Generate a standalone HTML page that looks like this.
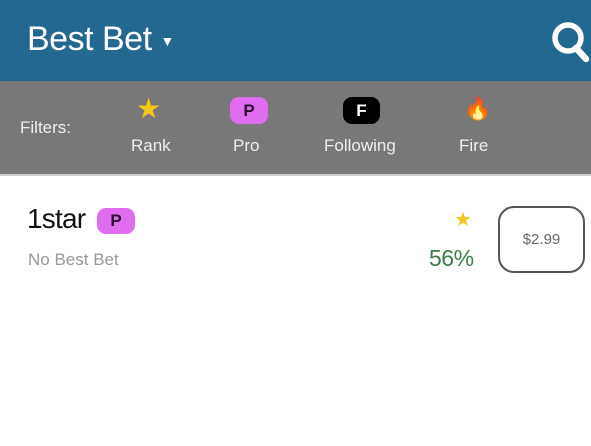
<!DOCTYPE html>
<html><head><meta charset="utf-8"><style>
body{margin:0;width:591px;height:446px;overflow:hidden;background:#fff;font-family:"Liberation Sans",sans-serif;position:relative}
.a{position:absolute}
.pill{position:absolute;border-radius:9px;text-align:center;font-weight:bold;font-size:17px}
</style></head><body>
<div class="a" style="left:0;top:0;width:591px;height:81px;background:#236891"></div>
<div class="a" style="left:27px;top:20px;color:#fff;font-size:34px;letter-spacing:-0.5px">Best Bet <span style="font-size:14px;vertical-align:middle">▼</span></div>
<svg class="a" style="left:550px;top:20px" width="41" height="44"><circle cx="18" cy="18" r="13" fill="none" stroke="#fff" stroke-width="5.5"/><line x1="26" y1="28" x2="36" y2="39" stroke="#fff" stroke-width="6.5" stroke-linecap="round"/></svg>
<div class="a" style="left:0;top:81px;width:591px;height:93px;background:#787878;border-bottom:2px solid #ccc"></div>
<div class="a" style="left:20px;top:118px;color:#eee;font-size:17px">Filters:</div>
<div class="a" style="left:136px;top:92px;font-size:28px;color:#f5c518">★</div>
<div class="a" style="left:131px;top:136px;color:#eee;font-size:17px">Rank</div>
<div class="pill" style="left:230px;top:97px;width:38px;height:27px;line-height:27px;background:#e06cf0;color:#2a0a2e">P</div>
<div class="a" style="left:233px;top:136px;color:#eee;font-size:17px">Pro</div>
<div class="pill" style="left:343px;top:97px;width:37px;height:27px;line-height:27px;background:#000;color:#fff">F</div>
<div class="a" style="left:324px;top:136px;color:#eee;font-size:17px">Following</div>
<div class="a" style="left:464px;top:96px;font-size:22px;color:#f04a1a">🔥</div>
<div class="a" style="left:459px;top:136px;color:#eee;font-size:17px">Fire</div>
<div class="a" style="left:27px;top:203px;font-size:28px;color:#111;letter-spacing:-0.8px">1star</div>
<div class="pill" style="left:97px;top:208px;width:38px;height:26px;line-height:26px;background:#e06cf0;color:#2a0a2e">P</div>
<div class="a" style="left:28px;top:250px;font-size:17px;color:#999">No Best Bet</div>
<div class="a" style="left:454px;top:207px;font-size:20px;color:#f5c518">★</div>
<div class="a" style="left:429px;top:245px;font-size:23px;color:#3d7d4a;letter-spacing:-0.5px">56%</div>
<div class="a" style="left:498px;top:206px;width:83px;height:63px;border:2px solid #555;border-radius:16px;text-align:center;line-height:63px;font-size:15px;color:#666">$2.99</div>
</body></html>
